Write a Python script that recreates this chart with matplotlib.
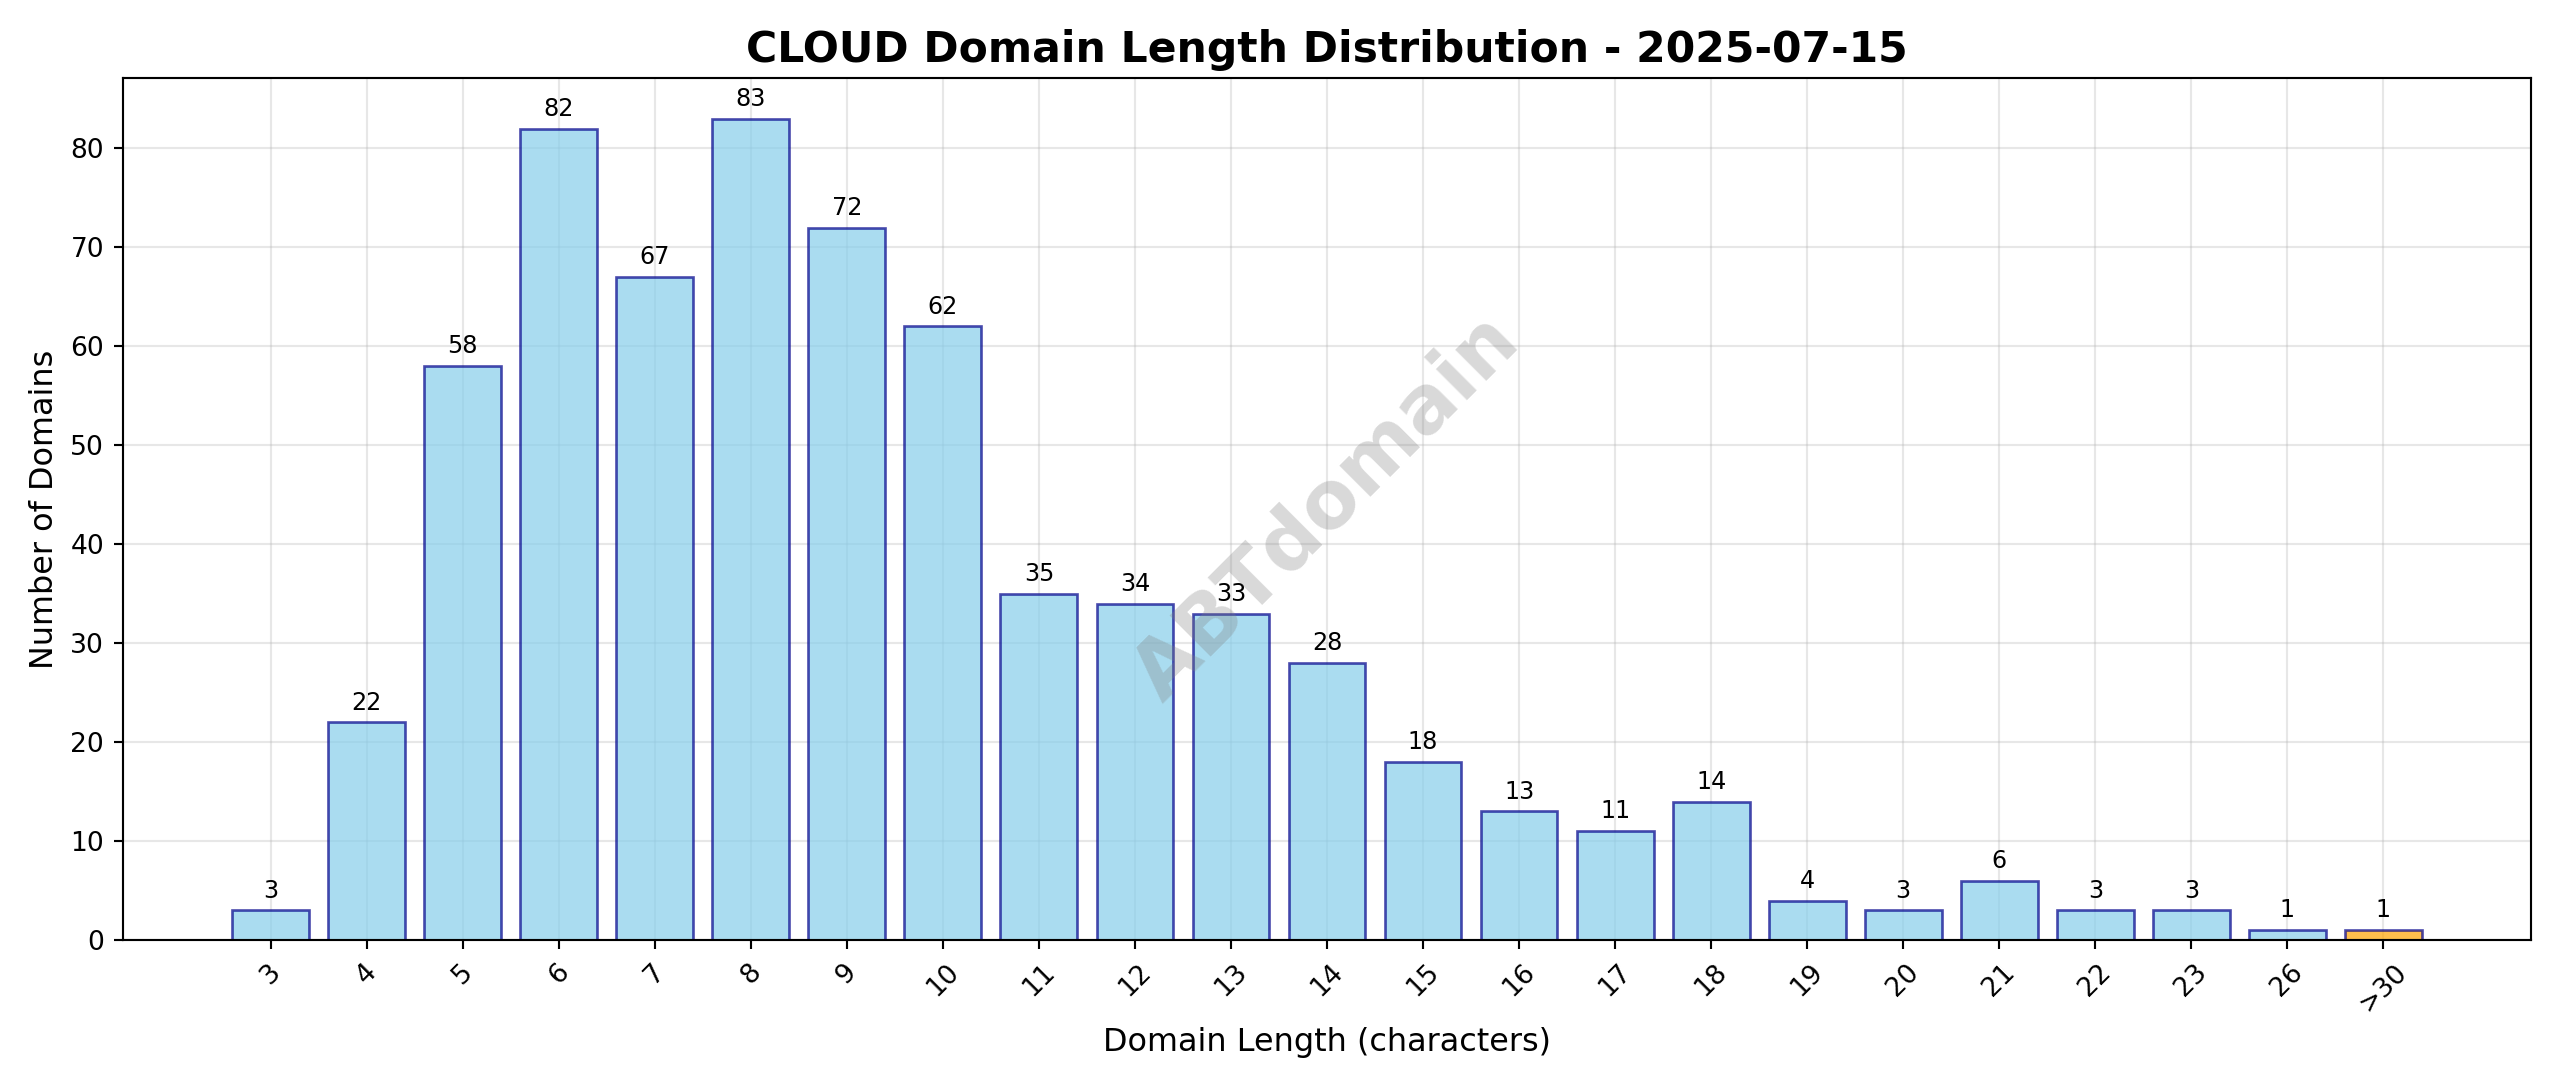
import matplotlib
matplotlib.use("Agg")
import matplotlib.pyplot as plt

lengths = ["3", "4", "5", "6", "7", "8", "9", "10", "11", "12", "13", "14", "15",
           "16", "17", "18", "19", "20", "21", "22", "23", "26", ">30"]
counts = [3, 22, 58, 82, 67, 83, 72, 62, 35, 34, 33, 28, 18, 13, 11, 14, 4, 3, 6, 3, 3, 1, 1]

colors = ["skyblue"] * (len(lengths) - 1) + ["orange"]

fig, ax = plt.subplots(figsize=(13.4, 5.69), dpi=191.04)
x = range(len(lengths))
bars = ax.bar(x, counts, color=colors, alpha=0.7, edgecolor="darkblue", linewidth=1)
for b, c in zip(bars, counts):
    ax.text(b.get_x() + b.get_width() / 2, b.get_height() + 0.8, str(c),
            ha="center", va="bottom", fontsize=9)
ax.set_xticks(list(x))
ax.set_xticklabels(lengths, rotation=45)
ax.set_xlabel("Domain Length (characters)", fontsize=12)
ax.set_ylabel("Number of Domains", fontsize=12)
ax.set_title("CLOUD Domain Length Distribution - 2025-07-15", fontsize=16, fontweight="bold")
ax.grid(True, alpha=0.3)
ax.set_axisbelow(True)
ax.text(0.5, 0.5, "ABTdomain", transform=ax.transAxes, fontsize=30, fontweight="bold",
        color="gray", alpha=0.3, rotation=45, ha="center", va="center")
plt.tight_layout()
plt.savefig("out.png", dpi=191.04)
